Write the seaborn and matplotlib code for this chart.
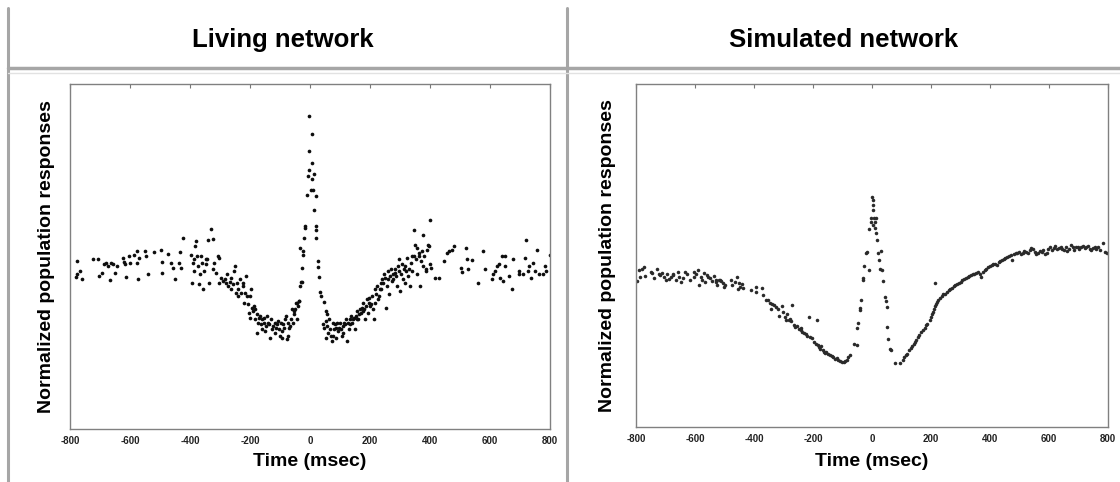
import matplotlib
matplotlib.use('Agg')
import matplotlib.pyplot as plt
from matplotlib.lines import Line2D
import seaborn as sns
import pandas as pd

# ---- Living network (time in msec, normalized response) ----
living_early_t = [-777, -781, -768, -759, -776, -724, -707, -704, -693, -687,
                  -679, -672, -668, -664, -658, -649, -643, -624, -620, -618,
                  -615, -603, -599, -587, -578, -576, -575, -569, -549, -541,
                  -546, -520, -498, -494, -492, -472, -463, -457, -449, -438,
                  -434, -429, -423]
living_early_r = [.505, .458, .475, .450, .465, .512, .512, .460, .468, .495,
                  .500, .490, .448, .500, .495, .468, .490, .515, .503, .495,
                  .457, .520, .500, .523, .535, .500, .452, .515, .537, .465,
                  .520, .533, .540, .503, .468, .528, .500, .485, .450, .500,
                  .532, .485, .575]

living_fall_t = [-398, -394, -391, -388, -388, -383, -379, -377, -373, -371,
                 -368, -362, -360, -357, -354, -348, -346, -342, -339, -337,
                 -331, -325, -323, -319, -314, -308, -304, -302, -296, -291,
                 -285, -279, -276, -273, -268, -265, -262, -256, -254, -250,
                 -248, -245, -241, -239, -233, -230, -225, -222, -219, -216,
                 -213, -210, -208, -205, -201, -199, -196, -193, -190, -187,
                 -185, -182, -178, -176, -174, -170, -167, -164, -161, -159,
                 -155, -153, -149, -147, -144, -141, -136, -132, -130, -126,
                 -123, -118, -116, -113, -109, -107, -105, -101, -98, -95,
                 -93, -90, -86, -84, -80, -78, -75, -72, -69, -67,
                 -63, -61, -57, -55, -52, -49, -47, -44, -40, -38]
living_fall_r = [.525, .440, .500, .475, .510, .550, .565, .520, .490, .435,
                 .465, .520, .500, .420, .475, .510, .495, .510, .570, .440,
                 .603, .573, .480, .500, .470, .520, .440, .515, .455, .445,
                 .450, .440, .465, .430, .442, .420, .455, .435, .475, .490,
                 .410, .440, .420, .400, .450, .410, .430, .440, .380, .410,
                 .460, .400, .375, .350, .400, .335, .420, .365, .355, .370,
                 .330, .360, .290, .345, .320, .335, .340, .315, .330, .300,
                 .320, .335, .295, .310, .340, .320, .315, .275, .330, .300,
                 .310, .320, .290, .305, .315, .325, .300, .280, .320, .295,
                 .275, .315, .305, .330, .340, .270, .320, .280, .305, .310,
                 .330, .360, .320, .345, .355, .360, .380, .330, .370, .385]

living_peak_t = [-42, -37, -33, -33, -29, -26, -28, -23, -22, -20,
                 -17, -17, -10, -7, -3, -3, -2, 4, 6, 7,
                 8, 9, 12, 13, 20, 20, 20, 20, 26, 27,
                 29, 33, 37, 47, 53, 57]
living_peak_r = [.380, .385, .546, .430, .442, .442, .483, .535, .525, .576,
                 .610, .605, .705, .762, .943, .780, .835, .720, .751, .889,
                 .800, .720, .660, .768, .702, .610, .600, .576, .486, .504,
                 .456, .411, .400, .381, .354, .345]

living_rise_t = [43, 48, 52, 54, 57, 60, 63, 65, 69, 72,
                 75, 77, 79, 83, 86, 88, 91, 94, 98, 100,
                 102, 106, 109, 111, 114, 117, 121, 123, 125, 129,
                 132, 134, 138, 140, 144, 146, 149, 152, 155, 157,
                 161, 163, 167, 169, 172, 175, 178, 180, 184, 186,
                 190, 192, 195, 198, 201, 203, 206, 209, 213, 215,
                 217, 221, 224, 226, 229, 232, 236, 238, 240, 244,
                 247, 249, 252, 255, 259, 261, 263, 267, 270, 272,
                 275, 278, 282, 284, 286, 290, 293, 295, 298, 301,
                 304, 307, 309, 313, 316, 318, 321, 324, 327, 330,
                 332, 336, 339, 341, 345, 347, 350, 353, 355, 358,
                 362, 364, 367, 370, 373, 376, 378, 381, 385, 387,
                 391, 393, 396, 399, 401, 404]
living_rise_r = [.315, .305, .325, .275, .310, .290, .330, .300, .280, .265,
                 .320, .280, .300, .315, .305, .275, .320, .295, .305, .320,
                 .300, .280, .310, .290, .320, .315, .330, .265, .320, .300,
                 .330, .315, .340, .320, .330, .335, .300, .340, .330, .355,
                 .330, .345, .360, .350, .365, .355, .380, .360, .330, .370,
                 .390, .350, .380, .395, .370, .375, .400, .360, .330, .420,
                 .380, .405, .430, .390, .400, .420, .440, .420, .450, .440,
                 .465, .455, .365, .430, .450, .475, .405, .460, .480, .445,
                 .465, .450, .480, .470, .460, .430, .490, .475, .510, .415,
                 .465, .495, .450, .480, .440, .490, .475, .515, .460, .480,
                 .430, .500, .520, .475, .600, .520, .555, .510, .545, .465,
                 .530, .520, .430, .505, .535, .583, .490, .520, .480, .475,
                 .540, .555, .550, .495, .628, .485]

living_late_t = [416, 431, 445, 456, 462, 473, 479, 504, 508, 519,
                 523, 527, 539, 560, 577, 583, 608, 611, 615, 623,
                 629, 634, 640, 643, 649, 651, 663, 672, 677, 695,
                 697, 709, 715, 720, 726, 730, 738, 743, 749, 758,
                 764, 778, 784, 787, 799]
living_late_r = [.453, .453, .505, .530, .535, .540, .550, .485, .472, .545,
                 .510, .480, .508, .440, .535, .480, .450, .465, .475, .490,
                 .495, .455, .522, .445, .522, .490, .460, .420, .510, .465,
                 .475, .465, .515, .570, .475, .490, .455, .500, .475, .538,
                 .465, .465, .490, .475, .525]

# ---- Simulated network ----
sim_early_t = [-797, -791, -788, -779, -773, -770, -750, -746, -738, -730,
               -723, -718, -712, -705, -700, -695, -688, -683, -676, -674,
               -665, -659, -653, -648, -641, -635, -627, -618, -604, -602,
               -595, -589, -586, -581, -575, -569, -565, -560, -555, -548,
               -543, -536, -530, -528, -525, -520, -515, -511, -505, -501,
               -497, -478, -473, -464, -458, -455, -450, -446, -441, -437]
sim_early_r = [.438, .470, .450, .475, .480, .452, .465, .462, .448, .475,
               .460, .455, .462, .450, .440, .458, .445, .450, .460, .455,
               .442, .465, .450, .435, .448, .465, .458, .440, .465, .450,
               .460, .472, .425, .450, .442, .462, .435, .455, .450, .448,
               .438, .452, .442, .435, .425, .440, .442, .437, .432, .420,
               .425, .440, .425, .435, .450, .415, .432, .420, .430, .418]

sim_fall_t = [-411, -394, -392, -373, -368, -361, -353, -345, -341, -338,
              -333, -326, -318, -315, -306, -301, -295, -291, -289, -283,
              -277, -275, -271, -265, -260, -254, -248, -242, -239, -236,
              -230, -225, -219, -213, -209, -205, -195, -190, -186, -184,
              -180, -176, -172, -166, -163, -158, -155, -149, -143, -137,
              -131, -125, -120, -114, -108, -102, -96, -90, -85, -81,
              -75]
sim_fall_r = [.410, .405, .420, .418, .395, .382, .380, .372, .355, .370,
              .365, .360, .355, .332, .362, .345, .330, .322, .338, .320,
              .325, .318, .365, .305, .300, .302, .295, .290, .298, .285,
              .282, .278, .272, .330, .270, .268, .255, .250, .322, .245,
              .240, .235, .242, .230, .225, .222, .225, .218, .215, .212,
              .210, .205, .207, .202, .198, .195, .195, .198, .202, .210,
              .215]

sim_peak_t = [-61, -50, -52, -48, -41, -41, -38, -32, -30, -26,
              -20, -17, -11, -11, -5, -3, 1, 3, 5, 3,
              5, 6, 9, 10, 12, 15, 18, 20, 24, 26,
              29, 33, 38, 44, 47, 50, 52, 55, 61, 65]
sim_peak_r = [.248, .245, .298, .312, .350, .358, .382, .442, .448, .482,
              .520, .525, .470, .592, .615, .625, .688, .680, .665, .605,
              .650, .625, .615, .595, .580, .625, .560, .520, .500, .475,
              .528, .472, .438, .390, .378, .360, .300, .265, .235, .230]

sim_rise_t = [79, 94, 106, 110, 115, 120, 125, 131, 137, 141,
              145, 149, 155, 160, 166, 172, 178, 184, 187, 195,
              201, 204, 207, 211, 213, 216, 219, 215, 225, 230,
              236, 242, 248, 254, 260, 265, 271, 277, 283, 289,
              295, 300, 306, 312, 318, 324, 330, 336, 341, 347,
              353, 359, 365, 371, 376, 382, 388, 394, 400, 406,
              411, 417, 423, 429, 435, 441, 446, 452, 458, 464,
              470, 476, 481, 487, 493, 499, 505, 511, 516, 522,
              528, 534, 540, 546, 551, 557, 563, 569, 575, 581,
              586, 592, 598, 604, 610, 616, 621, 627, 633, 639,
              645, 651, 656, 662, 668, 674, 680, 686, 691, 697,
              703, 709, 715, 721, 726, 732, 738, 744, 750, 756,
              761, 767, 773, 782, 791, 796]
sim_rise_r = [.192, .192, .202, .210, .215, .220, .230, .238, .242, .250,
              .255, .262, .270, .275, .285, .292, .298, .305, .310, .320,
              .330, .338, .345, .355, .362, .370, .375, .432, .382, .388,
              .392, .398, .400, .405, .412, .415, .418, .422, .425, .428,
              .432, .435, .440, .445, .448, .450, .452, .455, .458, .460,
              .462, .465, .460, .450, .465, .470, .475, .480, .482, .485,
              .488, .490, .485, .495, .498, .500, .505, .508, .510, .512,
              .515, .500, .518, .522, .520, .525, .518, .522, .528, .525,
              .522, .530, .535, .532, .525, .518, .522, .528, .525, .530,
              .518, .522, .532, .538, .530, .535, .542, .532, .535, .540,
              .532, .530, .540, .528, .532, .545, .538, .530, .540, .538,
              .532, .540, .542, .535, .538, .542, .532, .530, .535, .540,
              .532, .538, .530, .550, .525, .520]

x_ticks = [-800, -600, -400, -200, 0, 200, 400, 600, 800]
titles = ['Living network', 'Simulated network']

living = pd.DataFrame({
    'time': living_early_t + living_fall_t + living_peak_t + living_rise_t + living_late_t,
    'resp': living_early_r + living_fall_r + living_peak_r + living_rise_r + living_late_r})
sim = pd.DataFrame({
    'time': sim_early_t + sim_fall_t + sim_peak_t + sim_rise_t,
    'resp': sim_early_r + sim_fall_r + sim_peak_r + sim_rise_r})

sns.set_style('white')
plt.rcParams['font.family'] = ['Liberation Sans', 'DejaVu Sans']
plt.rcParams['text.color'] = 'black'
plt.rcParams['axes.labelcolor'] = 'black'

W, H = 1120, 482
fig = plt.figure(figsize=(W / 100, H / 100), dpi=100)
ax1 = fig.add_axes([70 / W, 1 - 429 / H, 480 / W, 345 / H])
ax2 = fig.add_axes([636 / W, 1 - 427 / H, 472 / W, 343 / H])

sns.scatterplot(data=living, x='time', y='resp', ax=ax1, color='#0d0d0d', s=7, linewidth=0)
sns.scatterplot(data=sim, x='time', y='resp', ax=ax2, color='#2a2a2a', s=6.5, linewidth=0)

for ax, top, lx, ly in [(ax1, 1.038, -0.031, -0.07), (ax2, 1.028, -0.042, -0.076)]:
    ax.set_xlim(-800, 800)
    ax.set_ylim(0, top)
    ax.set_xticks(x_ticks)
    ax.set_xticklabels([str(v) for v in x_ticks], fontweight='bold')
    ax.set_yticks([])
    ax.tick_params(axis='x', direction='in', length=3, width=0.8, color='#777777',
                   top=True, labelsize=7, labelcolor='#222222', pad=5)
    for sp in ax.spines.values():
        sp.set_color('#808080')
        sp.set_linewidth(1)
    ax.set_xlabel('Time (msec)', fontsize=14, fontweight='bold', color='black')
    ax.set_ylabel('Normalized population responses', fontsize=14, fontweight='bold', color='black')
    ax.xaxis.set_label_coords(0.5, ly)
    ax.yaxis.set_label_coords(lx, 0.5)

# table-like frame around the two panels
grey = '#a6a6a6'
fig.add_artist(Line2D([8 / W, 8 / W], [0, 1 - 8 / H], transform=fig.transFigure, color=grey, lw=2.2))
fig.add_artist(Line2D([567 / W, 567 / W], [0, 1 - 8 / H], transform=fig.transFigure, color=grey, lw=2.2))
fig.add_artist(Line2D([8 / W, 1], [1 - 68 / H, 1 - 68 / H], transform=fig.transFigure, color=grey, lw=2.5))
fig.add_artist(Line2D([8 / W, 1], [1 - 73 / H, 1 - 73 / H], transform=fig.transFigure, color='#e2e2e2', lw=1))

fig.text(283 / W, 1 - 40 / H, titles[0], ha='center', va='center', fontsize=18.5,
         fontweight='bold', color='black')
fig.text(844 / W, 1 - 40 / H, titles[1], ha='center', va='center', fontsize=18.5,
         fontweight='bold', color='black')

fig.savefig('out.png', dpi=100)
